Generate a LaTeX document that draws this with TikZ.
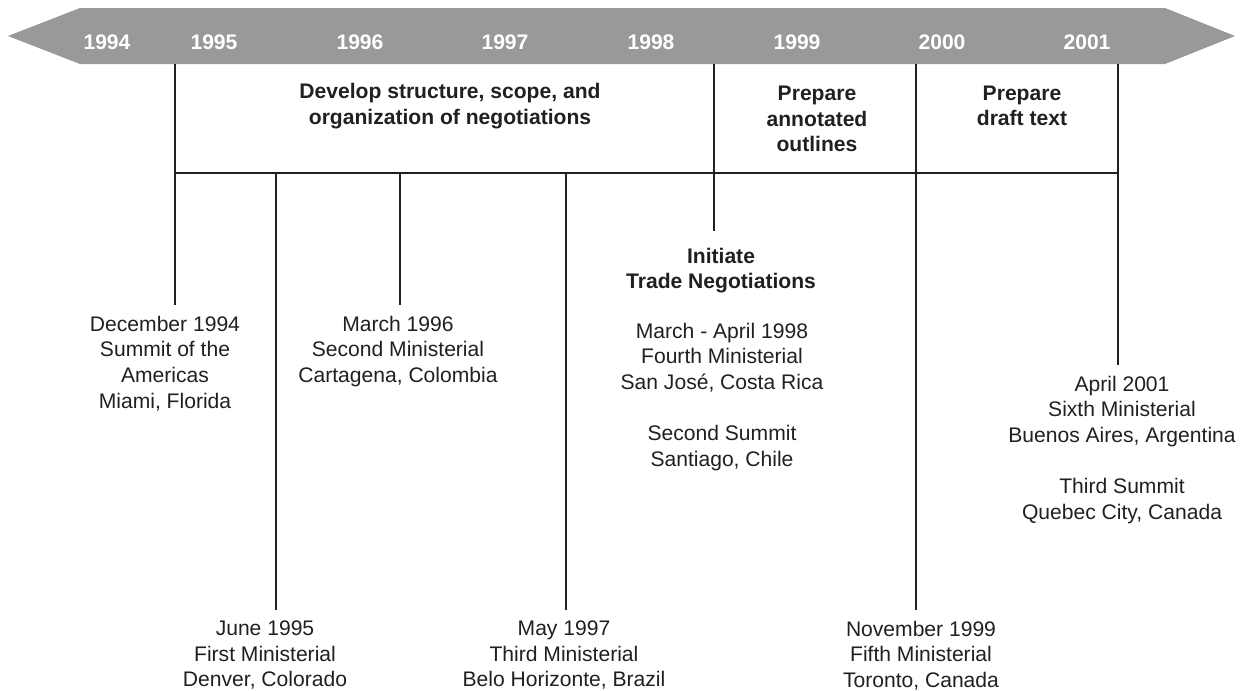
\documentclass[tikz,border=0pt]{standalone}
\usepackage{fontspec}
\setmainfont{Liberation Sans}
\usepackage{xcolor}
\usepackage{tikz}
\usetikzlibrary{positioning,calc}

\definecolor{bargray}{HTML}{999999}
\definecolor{ink}{HTML}{231F20}

\begin{document}
\begin{tikzpicture}[x=0.02cm, y=-0.02cm,
    year/.style={text=white, inner sep=0pt, font=\fontsize{12}{14.6}\selectfont\bfseries},
    phase/.style={text=ink, align=center, inner sep=0pt, font=\fontsize{12}{14.6}\selectfont\bfseries},
    event/.style={text=ink, align=center, anchor=north, inner xsep=0pt, inner ysep=6pt, font=\fontsize{12}{14.6}\selectfont},
    tick/.style={draw=ink, line width=1.1pt}
]
    \useasboundingbox (0,0) rectangle (1251,690);

    % time bar
    \fill[bargray] (8,36) -- (80,8) -- (1165,8) -- (1235,36) -- (1165,64) -- (80,64) -- cycle;
    \node[year] (y94) at (107,42) {1994};
    \node[year] (y95) at (214,42) {1995};
    \node[year] (y96) at (360,42) {1996};
    \node[year] (y97) at (505,42) {1997};
    \node[year] (y98) at (651,42) {1998};
    \node[year] (y99) at (797,42) {1999};
    \node[year] (y00) at (942,42) {2000};
    \node[year] (y01) at (1087,42) {2001};

    % phases
    \node[phase] (develop) at (450,106) {Develop structure, scope, and\\organization of negotiations};
    \node[phase] (outlines) at (817,119) {Prepare\\annotated\\outlines};
    \node[phase] (draft) at (1022,106) {Prepare\\draft text};

    % events
    \node[event] (dec94) at (165,305) {December 1994\\Summit of the\\Americas\\Miami, Florida};
    \node[event] (mar96) at (398,305) {March 1996\\Second Ministerial\\Cartagena, Colombia};
    \node[event] (jun95) at (265,610) {June 1995\\First Ministerial\\Denver, Colorado};
    \node[event] (may97) at (564,610) {May 1997\\Third Ministerial\\Belo Horizonte, Brazil};
    \node[event] (nov99) at (921,610) {November 1999\\Fifth Ministerial\\Toronto, Canada};
    \node[event] (apr01) at (1122,365) {April 2001\\Sixth Ministerial\\Buenos Aires, Argentina\\[14.6pt]Third Summit\\Quebec City, Canada};
    \node[phase, anchor=north, inner ysep=9.5pt] (init) at (721,231) {Initiate\\Trade Negotiations};
    \node[event] (sj98) at (722,312) {March - April 1998\\Fourth Ministerial\\San José, Costa Rica\\[14.6pt]Second Summit\\Santiago, Chile};

    % connectors
    \coordinate (top94) at (175,64);
    \coordinate (top98) at (714,64);
    \coordinate (top99) at (916,64);
    \coordinate (top01) at (1118,64);
    \coordinate (spanl) at (175,173);
    \coordinate (spanr) at (1118,173);
    \coordinate (at95) at (276,173);
    \coordinate (at96) at (400,173);
    \coordinate (at97) at (566,173);

    \draw[tick] (spanl) -- (spanr);
    \draw[tick] (top94) -- (dec94.north -| top94);
    \draw[tick] (at95) -- (jun95.north -| at95);
    \draw[tick] (at96) -- (mar96.north -| at96);
    \draw[tick] (at97) -- (may97.north -| at97);
    \draw[tick] (top98) -- (init.north -| top98);
    \draw[tick] (top99) -- (nov99.north -| top99);
    \draw[tick] (top01) -- (apr01.north -| top01);
\end{tikzpicture}
\end{document}
